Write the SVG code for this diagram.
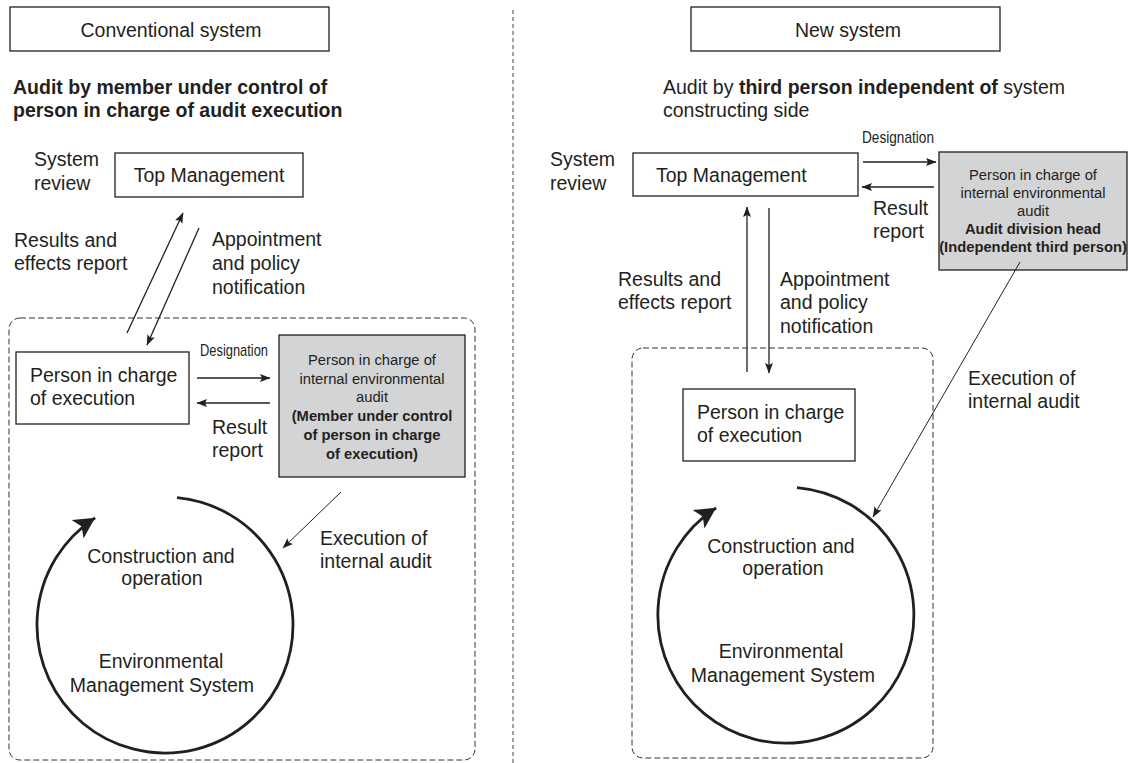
<svg xmlns="http://www.w3.org/2000/svg" width="1131" height="763" viewBox="0 0 1131 763">
<style>
text { font-family: "Liberation Sans", Arial, sans-serif; fill: #231f20; }
.t { font-size: 19.5px; }
.s { font-size: 14.75px; }
.b { font-weight: bold; }
.mid { text-anchor: middle; }
.box { fill: #ffffff; stroke: #231f20; stroke-width: 1.3; }
.gray { fill: #d3d4d5; stroke: #231f20; stroke-width: 1.3; }
.dash { fill: none; stroke: #333333; stroke-width: 1; stroke-dasharray: 6 3; }
.div { stroke: #444444; stroke-width: 1; stroke-dasharray: 4 3; }
.arr { fill: none; stroke: #231f20; stroke-width: 1.3; marker-end: url(#ah); }
.thin { fill: none; stroke: #231f20; stroke-width: 1; marker-end: url(#ah); }
.cyc { fill: none; stroke: #231f20; stroke-width: 2.8; marker-end: url(#big); }
</style>
<defs>
<marker id="ah" markerUnits="userSpaceOnUse" markerWidth="11" markerHeight="9" refX="10" refY="4.5" orient="auto" viewBox="0 0 11 9">
<path d="M0,0.5 L10.5,4.5 L0,8.5 L2,4.5 z" fill="#231f20"/>
</marker>
<marker id="big" markerUnits="userSpaceOnUse" markerWidth="22" markerHeight="22" refX="21" refY="11" orient="auto" viewBox="0 0 22 22">
<path d="M0,0 L21,11 L0,22 L5,11 z" fill="#231f20"/>
</marker>
</defs>

<!-- divider -->
<line class="div" x1="513" y1="10" x2="513" y2="763"/>

<!-- ===== LEFT: Conventional system ===== -->
<g id="title-left">
<rect class="box" x="10" y="7" width="319" height="44"/>
<text class="t mid" x="171" y="37">Conventional system</text>
</g>
<g id="heading-left">
<text class="t b" x="13" y="94">Audit by member under control of</text>
<text class="t b" x="13" y="117">person in charge of audit execution</text>
</g>
<g id="system-review-left">
<text class="t" x="34" y="166">System</text>
<text class="t" x="34" y="190">review</text>
</g>
<g id="top-mgmt-left">
<rect class="box" x="115" y="153" width="188" height="44"/>
<text class="t mid" x="209" y="182">Top Management</text>
</g>
<g id="label-results-left">
<text class="t" x="14" y="247">Results and</text>
<text class="t" x="14" y="270">effects report</text>
</g>
<g id="label-appoint-left">
<text class="t" x="212" y="246">Appointment</text>
<text class="t" x="212" y="270">and policy</text>
<text class="t" x="212" y="294">notification</text>
</g>
<g id="org-left">
<rect class="dash" x="9" y="318" width="466" height="442" rx="11"/>
</g>
<g id="person-exec-left">
<rect class="box" x="16" y="352" width="173" height="72"/>
<text class="t" x="30" y="382">Person in charge</text>
<text class="t" x="30" y="405">of execution</text>
</g>
<g id="label-designation-left">
<text x="200" y="356" style="font-size:17px" textLength="68" lengthAdjust="spacingAndGlyphs">Designation</text>
</g>
<g id="label-result-left">
<text class="t" x="212" y="434">Result</text>
<text class="t" x="212" y="457">report</text>
</g>
<g id="auditor-left">
<rect class="gray" x="279" y="335" width="186" height="142"/>
<text class="s mid" x="372" y="365">Person in charge of</text>
<text class="s mid" x="372" y="383.7">internal environmental</text>
<text class="s mid" x="372" y="402.4">audit</text>
<text class="s b mid" x="372" y="421">(Member under control</text>
<text class="s b mid" x="372" y="439.8">of person in charge</text>
<text class="s b mid" x="372" y="458.5">of execution)</text>
</g>
<g id="label-exec-audit-left">
<text class="t" x="320" y="545">Execution of</text>
<text class="t" x="320" y="568">internal audit</text>
</g>
<g id="ems-left">
<path class="cyc" d="M177,497.6 A128,128 0 1 1 95.1,517.8"/>
<text class="t mid" x="161" y="563">Construction and</text>
<text class="t mid" x="162" y="585">operation</text>
<text class="t mid" x="161" y="668">Environmental</text>
<text class="t mid" x="162" y="692">Management System</text>
</g>

<!-- ===== RIGHT: New system ===== -->
<g id="title-right">
<rect class="box" x="691" y="7" width="309" height="44"/>
<text class="t mid" x="848" y="37">New system</text>
</g>
<g id="heading-right">
<text class="t" x="663" y="94">Audit by <tspan class="b">third person independent of</tspan> system</text>
<text class="t" x="663" y="117">constructing side</text>
</g>
<g id="system-review-right">
<text class="t" x="550" y="166">System</text>
<text class="t" x="550" y="190">review</text>
</g>
<g id="top-mgmt-right">
<rect class="box" x="633" y="153" width="225" height="43"/>
<text class="t" x="656" y="182">Top Management</text>
</g>
<g id="label-designation-right">
<text x="862" y="143" style="font-size:17px" textLength="72" lengthAdjust="spacingAndGlyphs">Designation</text>
</g>
<g id="label-result-right">
<text class="t" x="873" y="215">Result</text>
<text class="t" x="873" y="238">report</text>
</g>
<g id="auditor-right">
<rect class="gray" x="939" y="152" width="188" height="118"/>
<text class="s mid" x="1033" y="180">Person in charge of</text>
<text class="s mid" x="1033" y="198">internal environmental</text>
<text class="s mid" x="1033" y="216">audit</text>
<text class="s b mid" x="1033" y="234">Audit division head</text>
<text class="s b mid" x="1033" y="252">(Independent third person)</text>
</g>
<g id="label-results-right">
<text class="t" x="618" y="286">Results and</text>
<text class="t" x="618" y="309">effects report</text>
</g>
<g id="label-appoint-right">
<text class="t" x="780" y="286">Appointment</text>
<text class="t" x="780" y="309">and policy</text>
<text class="t" x="780" y="333">notification</text>
</g>
<g id="label-exec-audit-right">
<text class="t" x="968" y="385">Execution of</text>
<text class="t" x="968" y="408">internal audit</text>
</g>
<g id="org-right">
<rect class="dash" x="632" y="348" width="301" height="410" rx="11"/>
</g>
<g id="person-exec-right">
<rect class="box" x="683" y="389" width="172" height="72"/>
<text class="t" x="697" y="419">Person in charge</text>
<text class="t" x="697" y="442">of execution</text>
</g>
<g id="ems-right">
<path class="cyc" d="M797,487.6 A128,128 0 1 1 716.1,507.8"/>
<text class="t mid" x="781" y="553">Construction and</text>
<text class="t mid" x="783" y="575">operation</text>
<text class="t mid" x="781" y="658">Environmental</text>
<text class="t mid" x="783" y="682">Management System</text>
</g>

<!-- ===== connectors ===== -->
<g id="connectors">
<line class="arr" x1="127" y1="333" x2="183" y2="213"/>
<line class="arr" x1="199" y1="228" x2="147" y2="345"/>
<line class="arr" x1="197" y1="378" x2="270" y2="378"/>
<line class="arr" x1="270" y1="403" x2="197" y2="403"/>
<line class="thin" x1="341" y1="492" x2="283" y2="548"/>
<line class="arr" x1="863" y1="162" x2="936" y2="162"/>
<line class="arr" x1="934" y1="187" x2="862" y2="187"/>
<line class="arr" x1="747" y1="372" x2="747" y2="207"/>
<line class="arr" x1="769" y1="208" x2="769" y2="373"/>
<line class="thin" x1="1020" y1="262" x2="873" y2="517"/>
</g>
</svg>
